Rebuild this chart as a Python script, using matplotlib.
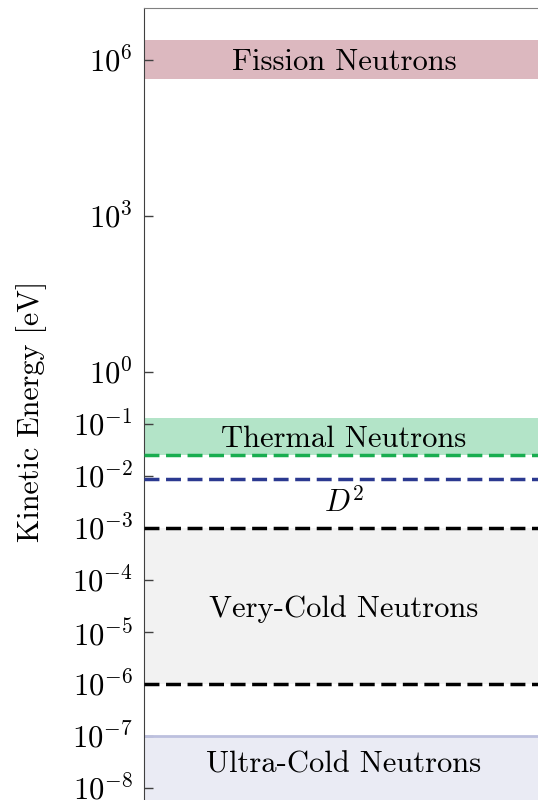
import matplotlib
matplotlib.use("Agg")
import matplotlib.pyplot as plt
from matplotlib.ticker import FixedLocator, LogFormatterSciNotation

plt.rcParams['font.family'] = 'cmr10'
plt.rcParams['mathtext.fontset'] = 'cm'
plt.rcParams['axes.formatter.use_mathtext'] = True

# energy bands [eV]: (low, high)
fission_band = (4.3e5, 2.4e6)
thermal_band = (0.025, 0.13)
vcn_band = (1e-6, 1e-3)
ucn_band = (1e-9, 1e-7)

# reference energies drawn as dashed lines [eV]
thermal_line = 0.025
d2_line = 0.00875
vcn_lines = [1e-3, 1e-6]

# label positions [eV]
band_labels = ['Fission Neutrons', 'Thermal Neutrons', 'Very-Cold Neutrons', 'Ultra-Cold Neutrons']
label_energies = [1e6, 0.057, 10**-4.5, 3.2e-8]
d2_label_energy = 3.5e-3

y_ticks = [1e6, 1e3, 1e0, 1e-1, 1e-2, 1e-3, 1e-4, 1e-5, 1e-6, 1e-7, 1e-8]

fig = plt.figure(figsize=(5.38, 8), dpi=100)
ax = fig.add_axes([144 / 538, -14 / 800, 400 / 538, 806 / 800])

ax.set_yscale('log')
ax.set_ylim(10**-8.5, 1e7)
ax.set_xlim(0, 1)

ax.axhspan(*fission_band, color='#dcb8bf', lw=0, zorder=1)
ax.axhspan(*thermal_band, color='#b3e4c8', lw=0, zorder=1)
ax.axhspan(*vcn_band, color='#f2f2f2', lw=0, zorder=1)
ax.axhspan(*ucn_band, color='#eaebf4', lw=0, zorder=1)
ax.axhline(ucn_band[1], color='#bcc0de', lw=2.0, zorder=2)

dash = (4.3, 1.9)
lw = 2.5
ax.axhline(thermal_line, color='#19ad50', lw=lw, dashes=dash, zorder=3)
ax.axhline(d2_line, color='#2b3990', lw=lw, dashes=dash, zorder=3)
for e in vcn_lines:
    ax.axhline(e, color='black', lw=lw, dashes=dash, zorder=3)

for name, e in zip(band_labels, label_energies):
    ax.annotate(name, (0.5, e), xytext=(0, -2), textcoords='offset points',
                ha='center', va='center', fontsize=22, zorder=4)
ax.annotate(r'$D^2$', (0.5, d2_label_energy), xytext=(0, -2), textcoords='offset points',
            ha='center', va='center', fontsize=22, zorder=4)

ax.yaxis.set_major_locator(FixedLocator(y_ticks))
ax.yaxis.set_major_formatter(LogFormatterSciNotation())
ax.yaxis.set_minor_locator(FixedLocator([]))
ax.tick_params(axis='y', direction='in', length=6.5, width=1, color='#404040',
               labelsize=22, pad=8)
ax.set_xticks([])

ax.spines['right'].set_visible(False)
ax.spines['top'].set_color('#808080')
ax.spines['left'].set_color('#404040')

ax.set_ylabel('Kinetic Energy [eV]', fontsize=21.7, labelpad=18)

fig.savefig('out.png', dpi=100)
